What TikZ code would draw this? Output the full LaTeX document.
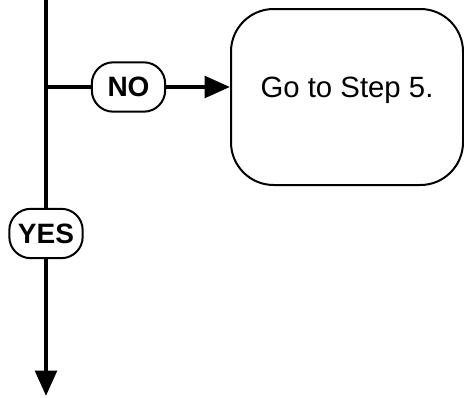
\documentclass[tikz,border=0pt]{standalone}
\usepackage{fontspec}
\setmainfont{Liberation Sans}
\usetikzlibrary{positioning,arrows.meta,calc}

\begin{document}
\begin{tikzpicture}[x=0.75pt,y=-0.75pt,
      flow/.style={line width=3.3pt},
      tip/.style={-{Triangle[length=19pt,width=16pt]}},
      pill/.style={draw,line width=1.5pt,rounded corners=16pt,fill=white,
                   minimum width=55pt,minimum height=37pt,inner sep=0pt,
                   font=\bfseries\fontsize{21}{21}\selectfont},
      stepbox/.style={draw,line width=1.5pt,rounded corners=32pt,
                   minimum width=174pt,minimum height=132pt,inner sep=0pt,
                   text height=17pt,text depth=17pt,
                   font=\fontsize{22}{26}\selectfont}]
    \useasboundingbox (0,0) rectangle (464,397);
    \coordinate (top) at (46,0);
    \coordinate (branch) at (46,88);
    \coordinate (bottom) at (46,396);
    \node[pill] (no) at (128.5,87) {NO};
    \node[pill] (yes) at (46,233.5) {YES};
    \node[stepbox] (step5) at (347,97) {Go to Step 5.};
    % main line and branch
    \draw[flow] (top) -- (yes);
    \draw[flow,tip] (yes) -- (bottom);
    \draw[flow] (branch) -- (no -| branch) -- (no);
    \draw[flow,tip] (no) -- (no -| step5.west);
  \end{tikzpicture}
\end{document}
